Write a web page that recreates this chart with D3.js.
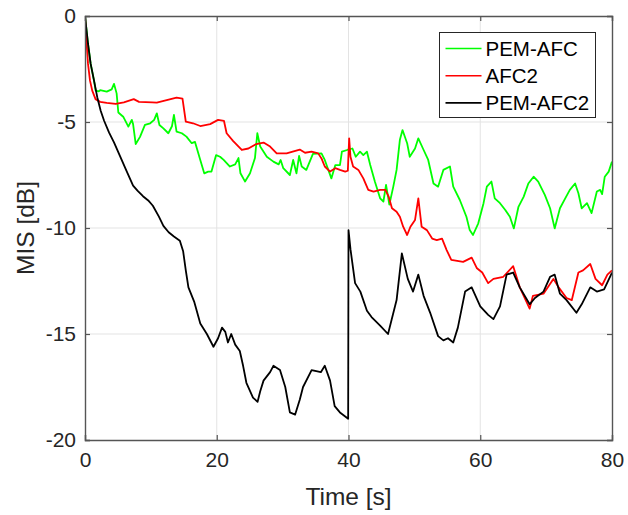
<!DOCTYPE html>
<html>
<head>
<meta charset="utf-8">
<script src="https://cdn.jsdelivr.net/npm/d3@7/dist/d3.min.js"></script>
<style>
  html, body { margin: 0; padding: 0; background: #fff; }
  svg { display: block; font-family: "Liberation Sans", Arial, Helvetica, sans-serif; }
</style>
</head>
<body>
<svg id="chart" width="628" height="515"></svg>
<script>
// Misalignment (MIS) over time for three feedback cancellers, [time s, MIS dB]
const pemAfc = [
  [0, 0], [0.46, -1.32], [0.86, -2.26], [1.37, -3.05], [1.62, -3.52], [2.1, -3.55],
  [2.3, -3.5], [3.3, -3.57], [4.05, -3.46], [4.4, -3.2], [4.8, -3.65], [5.06, -4.55],
  [5.8, -4.75], [6.58, -5.22], [7.1, -4.9], [7.3, -5.1], [7.7, -6.04], [8.35, -5.7],
  [9.1, -5.14], [9.9, -5.06], [10.5, -4.9], [10.9, -4.59], [11.3, -5.14], [11.9, -5.3],
  [12.65, -5.53], [13.2, -5.2], [13.5, -4.67], [13.9, -5.45], [14.7, -5.53], [15.4, -5.69],
  [16.2, -6.0], [16.7, -5.94], [17.5, -6.79], [18.1, -7.42], [18.7, -7.34], [19.2, -7.34],
  [19.9, -6.56], [20.5, -6.64], [21.05, -6.79], [22.0, -7.1], [22.8, -7.0], [23.3, -6.7],
  [23.6, -7.42], [24.3, -7.81], [25.05, -7.42], [25.8, -6.7], [26.16, -5.53], [26.6, -6.16],
  [27.6, -6.64], [28.6, -6.87], [29.4, -7.0], [29.7, -6.79], [30.1, -7.18], [31.1, -7.5],
  [31.6, -6.79], [32.1, -7.42], [32.5, -6.6], [32.9, -7.1], [33.6, -7.26], [34.6, -6.5],
  [35.9, -6.48], [36.4, -6.79], [37.4, -7.66], [38.0, -7.03], [38.7, -7.03], [39.0, -6.4],
  [39.8, -6.32], [40.6, -6.25], [41.1, -6.64], [41.75, -6.4], [42.25, -6.56], [42.8, -6.4],
  [43.3, -7.03], [44.0, -7.81], [44.8, -8.6], [45.3, -8.75], [45.7, -7.97], [46.2, -8.9],
  [46.8, -8.05], [47.3, -7.26], [47.8, -5.84], [48.2, -5.38], [48.9, -6.0], [49.3, -6.64],
  [50.1, -6.25], [50.6, -5.77], [51.3, -6.25], [52.1, -6.79], [52.9, -7.9], [53.6, -8.05],
  [54.4, -7.26], [55.4, -7.1], [55.9, -8.05], [56.9, -8.68], [57.9, -9.47], [58.4, -10.1],
  [58.9, -10.33], [59.7, -9.78], [60.5, -8.83], [61.0, -8.05], [61.7, -7.81], [62.2, -8.6],
  [63.0, -8.83], [63.8, -9.15], [64.5, -9.47], [65.1, -10.02], [65.8, -9.0], [66.6, -8.52],
  [67.3, -7.9], [68.1, -7.58], [68.8, -7.81], [69.8, -8.44], [70.6, -9.07], [71.3, -10.02],
  [72.1, -9.07], [72.9, -8.6], [73.6, -8.2], [74.4, -7.9], [74.9, -8.36], [75.4, -9.07],
  [76.2, -8.83], [76.9, -9.3], [77.7, -8.28], [78.2, -8.2], [78.5, -8.4], [78.9, -7.58],
  [79.5, -7.34], [80.0, -6.87]
];

const afc2 = [
  [0, 0], [0.25, -1.32], [0.46, -2.26], [0.76, -3.05], [1.1, -3.52], [1.6, -3.92],
  [2.3, -4.05], [3.3, -4.1], [4.66, -4.15], [5.9, -4.07], [7.4, -3.92], [8.2, -4.05],
  [10.2, -4.07], [10.9, -4.09], [12.4, -3.97], [13.9, -3.85], [14.8, -3.9], [15.3, -4.98],
  [16.4, -5.06], [17.5, -5.19], [19.0, -5.1], [20.2, -4.9], [21.1, -4.95], [21.5, -5.53],
  [22.5, -5.9], [23.8, -6.32], [24.8, -6.25], [26.0, -6.04], [27.1, -5.97], [28.1, -6.16],
  [29.1, -6.48], [30.6, -6.48], [32.6, -6.3], [33.4, -6.45], [34.4, -6.4], [35.4, -6.48],
  [35.9, -6.72], [36.4, -7.1], [37.2, -7.34], [38.0, -7.18], [38.7, -7.26], [39.5, -7.34],
  [39.9, -7.3], [40.1, -5.77], [40.3, -6.64], [40.7, -7.1], [41.5, -7.26], [42.25, -7.66],
  [43.0, -8.2], [43.8, -8.28], [44.8, -8.2], [45.6, -8.2], [46.1, -8.52], [46.6, -9.07],
  [47.3, -9.23], [47.8, -9.47], [48.3, -9.94], [48.9, -10.33], [49.4, -9.94], [50.1, -9.62],
  [50.6, -8.6], [51.1, -9.94], [51.9, -10.1], [52.7, -10.5], [53.4, -10.57], [54.2, -10.5],
  [54.9, -11.04], [55.6, -11.5], [57.4, -11.6], [58.7, -11.4], [59.5, -11.9], [60.3, -12.1],
  [61.2, -12.6], [62.0, -12.4], [63.5, -12.3], [65.0, -11.8], [66.0, -12.8], [67.5, -13.8],
  [68.0, -13.2], [69.6, -13.1], [71.1, -12.4], [71.9, -12.8], [73.1, -13.3], [73.9, -13.4],
  [74.9, -12.1], [75.6, -12.0], [76.7, -11.7], [77.5, -12.4], [78.5, -12.7], [79.3, -12.2],
  [80.0, -12.0]
];

const pemAfc2 = [
  [0, 0], [0.46, -1.32], [0.86, -2.26], [1.37, -3.05], [1.87, -3.84], [2.38, -4.47],
  [2.9, -4.94], [3.64, -5.49], [4.4, -5.96], [5.3, -6.6], [6.3, -7.3], [7.3, -8.0],
  [8.0, -8.25], [8.8, -8.5], [9.6, -8.7], [10.3, -8.95], [11.2, -9.45], [11.9, -9.9],
  [12.7, -10.2], [13.5, -10.4], [14.4, -10.6], [14.9, -11.1], [15.3, -12.0], [15.7, -12.8],
  [16.6, -13.5], [17.5, -14.5], [18.5, -15.0], [19.5, -15.6], [20.2, -15.2], [20.8, -14.7],
  [21.3, -14.9], [21.7, -15.4], [22.2, -15.0], [22.8, -15.5], [23.5, -15.8], [24.0, -16.5],
  [24.5, -17.3], [25.5, -18.0], [26.2, -18.2], [26.6, -17.7], [27.1, -17.2], [28.1, -16.8],
  [28.6, -16.5], [29.6, -16.7], [30.4, -17.5], [31.1, -18.7], [31.9, -18.8], [32.6, -18.1],
  [33.1, -17.5], [34.4, -16.7], [35.8, -16.8], [36.4, -16.5], [37.2, -17.2], [37.9, -18.4],
  [38.7, -18.7], [39.95, -19.0], [40.0, -10.1], [40.3, -11.0], [41.0, -12.6], [41.8, -13.0],
  [42.8, -13.9], [43.5, -14.2], [44.8, -14.6], [46.0, -15.0], [47.3, -13.4], [48.1, -11.2],
  [49.0, -12.4], [49.8, -13.0], [50.6, -12.2], [51.4, -13.2], [52.4, -14.0], [53.6, -15.1],
  [54.4, -15.3], [55.1, -15.2], [55.9, -15.4], [56.6, -14.7], [57.7, -13.0], [58.7, -12.8],
  [60.0, -13.7], [61.2, -14.1], [62.0, -14.3], [63.0, -13.7], [64.0, -12.2], [65.0, -12.1],
  [66.0, -12.8], [67.5, -13.6], [68.3, -13.3], [69.6, -13.0], [70.6, -12.3], [71.3, -12.2],
  [72.1, -13.1], [73.1, -13.4], [74.6, -14.0], [75.4, -13.6], [76.7, -12.8], [77.7, -13.0],
  [78.8, -12.9], [80.0, -12.1]
];

const seriesNames = ["PEM-AFC", "AFC2", "PEM-AFC2"];
const seriesColors = ["#00ff00", "#ff0000", "#000000"];
const xTicks = [0, 20, 40, 60, 80];
const yTicks = [0, -5, -10, -15, -20];

const svg = d3.select("#chart");
const margin = { left: 85, top: 16, right: 16, bottom: 75 };
const W = 628, H = 515;
const iw = W - margin.left - margin.right;   // 527
const ih = H - margin.top - margin.bottom;   // 424

const x = d3.scaleLinear().domain([0, 80]).range([0, iw]);
const y = d3.scaleLinear().domain([-20, 0]).range([ih, 0]);

const g = svg.append("g").attr("transform", `translate(${margin.left},${margin.top})`);

// grid
g.append("g").selectAll("line").data(xTicks.slice(1, -1)).join("line")
  .attr("x1", d => x(d)).attr("x2", d => x(d)).attr("y1", 0).attr("y2", ih)
  .attr("stroke", "#e3e3e3").attr("stroke-width", 1);
g.append("g").selectAll("line").data(yTicks.slice(1, -1)).join("line")
  .attr("y1", d => y(d)).attr("y2", d => y(d)).attr("x1", 0).attr("x2", iw)
  .attr("stroke", "#e3e3e3").attr("stroke-width", 1);

// curves
g.append("clipPath").attr("id", "plotclip").append("rect")
  .attr("width", iw).attr("height", ih);

const line = d3.line().x(d => x(d[0])).y(d => y(d[1]));
const curveData = [pemAfc, afc2, pemAfc2];
g.append("g").attr("clip-path", "url(#plotclip)")
  .selectAll("path").data(curveData).join("path")
  .attr("d", line)
  .attr("fill", "none")
  .attr("stroke", (d, i) => seriesColors[i])
  .attr("stroke-width", 1.8)
  .attr("stroke-linejoin", "round");

// axes: ticks pointing inward on all four sides, labels on bottom and left
const axisColor = "#555";
const tickLen = 5;
const fmt = d => String(d);

const axBottom = g.append("g").attr("transform", `translate(0,${ih})`)
  .call(d3.axisBottom(x).tickValues(xTicks).tickSize(-tickLen).tickPadding(12).tickFormat(fmt));
const axTop = g.append("g")
  .call(d3.axisTop(x).tickValues(xTicks).tickSize(-tickLen).tickFormat(""));
const axLeft = g.append("g")
  .call(d3.axisLeft(y).tickValues(yTicks).tickSize(-tickLen).tickPadding(9).tickFormat(fmt));
const axRight = g.append("g").attr("transform", `translate(${iw},0)`)
  .call(d3.axisRight(y).tickValues(yTicks).tickSize(-tickLen).tickFormat(""));

[axBottom, axTop, axLeft, axRight].forEach(a => {
  a.select(".domain").attr("stroke", axisColor).attr("stroke-width", 1.4);
  a.selectAll(".tick line").attr("stroke", axisColor).attr("stroke-width", 1.2);
  a.selectAll(".tick text").attr("fill", "#262626")
    .style("font-size", "21px").style("font-family", "'Liberation Sans', Arial, sans-serif");
});

// axis titles
svg.append("text")
  .attr("x", margin.left + iw / 2).attr("y", 505)
  .attr("text-anchor", "middle").attr("fill", "#262626")
  .style("font-size", "24.5px").text("Time [s]");
svg.append("text")
  .attr("transform", `translate(34,${margin.top + ih / 2}) rotate(-90)`)
  .attr("text-anchor", "middle").attr("fill", "#262626")
  .style("font-size", "24.5px").text("MIS [dB]");

// legend
const lg = svg.append("g").attr("transform", "translate(439.5,32.5)");
lg.append("rect").attr("width", 156).attr("height", 85)
  .attr("fill", "#fff").attr("stroke", "#262626").attr("stroke-width", 1);
const rows = lg.selectAll("g.row").data(seriesNames).join("g")
  .attr("transform", (d, i) => `translate(0,${16 + i * 27.2})`);
rows.append("line").attr("x1", 6).attr("x2", 42).attr("y1", 0).attr("y2", 0)
  .attr("stroke", (d, i) => seriesColors[i]).attr("stroke-width", 1.6);
rows.append("text").attr("x", 46).attr("y", 7.5)
  .attr("fill", "#000").style("font-size", "20.5px").text(d => d);
</script>
</body>
</html>
